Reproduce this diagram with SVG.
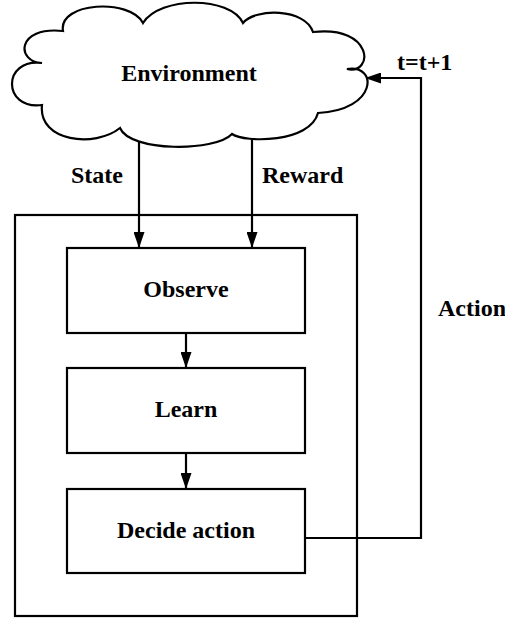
<svg xmlns="http://www.w3.org/2000/svg" width="505" height="619" viewBox="0 0 505 619">
<defs>
<marker id="ah" markerWidth="16" markerHeight="11" refX="16" refY="5.5" orient="auto" markerUnits="userSpaceOnUse">
<path d="M0,0 L16,5.5 L0,11 Z" fill="#000"/>
</marker>
<style>
.box{fill:#fff;stroke:#000;stroke-width:2.2}
.ln{fill:none;stroke:#000;stroke-width:2.2}
.t{font-family:"Liberation Serif","Times New Roman",serif;font-weight:bold;font-size:24px;fill:#000}
.c{text-anchor:middle}
</style>
</defs>
<rect width="505" height="619" fill="#fff"/>
<g id="agent"><rect class="box" x="15" y="215" width="342" height="401"/></g>
<g id="connectors">
<line class="ln" x1="139" y1="138" x2="139" y2="248" marker-end="url(#ah)"/>
<line class="ln" x1="252" y1="135" x2="252" y2="248" marker-end="url(#ah)"/>
<line class="ln" x1="186" y1="333" x2="186" y2="368" marker-end="url(#ah)"/>
<line class="ln" x1="186" y1="453" x2="186" y2="489" marker-end="url(#ah)"/>
<polyline class="ln" points="305,538 421,538 421,78 365,78" marker-end="url(#ah)"/>
<text class="t" x="71" y="183">State</text>
<text class="t" x="262" y="183">Reward</text>
<text class="t" x="438" y="316">Action</text>
<text class="t" x="397" y="70">t=t+1</text>
</g>
<g id="environment">
<path class="box" d="M63,31 C58,2 130,-2 143,23 C160,-4 230,-4 243,23 C255,8 305,8 313,32 C374,25 374,75 347,69 C378,64 378,110 318,113 C310,143 245,143 232,134 C215,152 130,152 120,128 C95,148 38,142 42,105 C2,110 2,58 42,63 C16,62 16,26 63,31 Z"/>
<text class="t c" x="189" y="81">Environment</text>
</g>
<g id="observe"><rect class="box" x="67" y="248" width="238" height="85"/><text class="t c" x="186" y="297">Observe</text></g>
<g id="learn"><rect class="box" x="67" y="368" width="238" height="85"/><text class="t c" x="186" y="417">Learn</text></g>
<g id="decide"><rect class="box" x="67" y="489" width="238" height="84"/><text class="t c" x="186" y="538">Decide action</text></g>
</svg>
